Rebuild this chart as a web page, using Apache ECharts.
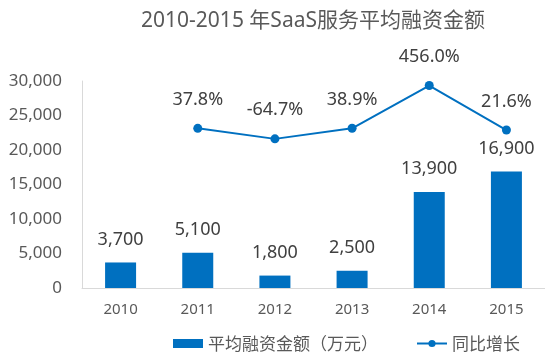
<!DOCTYPE html>
<html><head><meta charset="utf-8">
<script src="https://cdn.jsdelivr.net/npm/echarts@6/dist/echarts.min.js"></script>
<style>html,body{margin:0;padding:0;background:#fff}#c{width:545px;height:360px}</style>
</head><body><div id="c"></div>
<script>
const categories = ['2010','2011','2012','2013','2014','2015'];
const funding = [3700, 5100, 1800, 2500, 13900, 16900];
const growth = [null, 37.8, -64.7, 38.9, 456.0, 21.6];
const yTicks = [0, 5000, 10000, 15000, 20000, 25000, 30000];

const FONT = '"Noto Sans", "Noto Sans CJK SC", sans-serif';
const chart = echarts.init(document.getElementById('c'));
chart.setOption({
  animation: false,
  textStyle: { fontFamily: FONT },
  title: {
    text: '2010-2015 年SaaS服务平均融资金额',
    left: 308, top: 6, textAlign: 'center',
    textStyle: { fontSize: 21, fontWeight: 'normal', color: '#595959', fontFamily: FONT }
  },
  legend: {
    bottom: 3, left: 168,
    itemWidth: 30, itemHeight: 9, itemGap: 38,
    textStyle: { fontSize: 17, color: '#595959', fontFamily: '"Noto Sans CJK SC", sans-serif' },
    data: [
      { name: '平均融资金额（万元）', icon: 'rect' },
      { name: '同比增长' }
    ]
  },
  grid: { left: 82, top: 81, width: 470, height: 207 },
  xAxis: {
    type: 'category', data: categories,
    axisLine: { lineStyle: { color: '#d9d9d9' } },
    axisTick: { show: false },
    axisLabel: { fontSize: 15, color: '#595959', margin: 14 }
  },
  yAxis: [{
    type: 'value', min: 0, max: 30000, interval: 5000,
    axisLine: { show: true, lineStyle: { color: '#d9d9d9' } },
    splitLine: { show: false },
    axisLabel: {
      fontSize: 17, color: '#595959', margin: 20,
      formatter: v => yTicks.includes(v) ? v.toLocaleString('en-US') : ''
    }
  }, {
    type: 'value', min: -1520, max: 500, show: false, splitLine: { show: false }
  }],
  series: [{
    name: '平均融资金额（万元）', type: 'bar', data: funding, barWidth: 31,
    itemStyle: { color: '#0070C0' },
    label: { show: true, position: 'top', distance: 14, fontSize: 18, color: '#404040',
      formatter: p => p.value.toLocaleString('en-US') }
  }, {
    name: '同比增长', type: 'line', yAxisIndex: 1, data: growth,
    symbol: 'circle', symbolSize: 9,
    lineStyle: { color: '#0070C0', width: 2 },
    itemStyle: { color: '#0070C0' },
    label: { show: true, position: 'top', distance: 15, fontSize: 18, color: '#404040',
      formatter: p => p.value.toFixed(1) + '%' }
  }]
});
</script></body></html>
